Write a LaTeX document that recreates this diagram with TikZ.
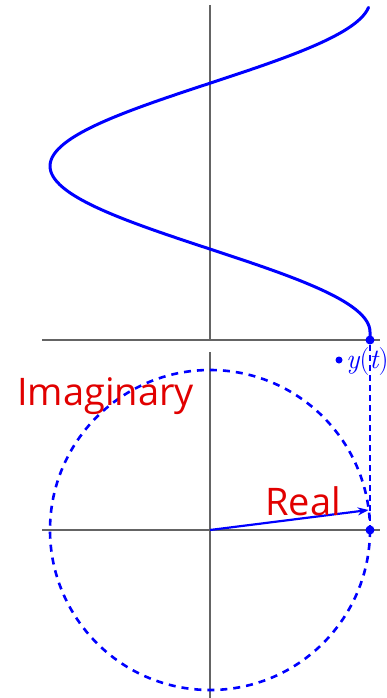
\documentclass[tikz,border=0pt]{standalone}
\usepackage{fontspec}
\setmainfont{Open Sans}
\newfontfamily\lmfont{Latin Modern Roman}
\usetikzlibrary{arrows.meta}
\definecolor{axisgray}{RGB}{100,100,100}
\definecolor{lblred}{RGB}{225,0,0}
\definecolor{curveblue}{RGB}{0,0,255}
\tikzset{
  axis/.style={draw=axisgray, line width=1.8pt},
  curve/.style={draw=curveblue, line width=3pt},
  bigdot/.style={circle, fill=curveblue, inner sep=0pt, minimum size=9pt},
  smalldot/.style={circle, fill=curveblue, inner sep=0pt, minimum size=7pt},
  lbl/.style={text=lblred, font=\fontsize{38}{40}\selectfont, inner sep=0pt},
}
\begin{document}
\begin{tikzpicture}[x=1pt,y=-1pt]
\useasboundingbox (0,0) rectangle (387,698);
\clip (0,0) rectangle (387,698);
% axes
\draw[axis] (42,340) -- (380,340);
\draw[axis] (210,5) -- (210,340);
\draw[axis] (42,530) -- (380,530);
\draw[axis] (210,352) -- (210,698);
% sine curve
\draw[curve, line cap=round] (370,340) -- (370,332) -- plot[domain=0:6.15, samples=120, smooth] ({210+160*cos(\x r)}, {332-52.8*\x});
% circle
\draw[curveblue, line width=2.6pt, dash pattern=on 7pt off 6pt] (210,530) circle[radius=160];
% projection line
\draw[curveblue, line width=1.3pt, dash pattern=on 6pt off 4pt] (370,345) -- (370,530);
% nodes
\node[bigdot] (top) at (370,340) {};
\node[bigdot] (bot) at (370,530) {};
\coordinate (o) at (210,530);
\coordinate (p) at (368.7,510);
\draw[curveblue, line width=2.2pt, -{Stealth[length=11pt,width=8pt]}] (o) -- (p);
\node[smalldot] (yd) at (339,360) {};
\node[anchor=base west, text=curveblue, inner sep=0pt, font=\lmfont\fontsize{28}{30}\selectfont] (yl) at (346,368) {\itshape y\upshape(\itshape t\upshape)};
\node[lbl, anchor=base west] (im) at (17,405) {Imaginary};
\node[lbl, anchor=base west] (re) at (265,515) {Real};
\end{tikzpicture}
\end{document}
